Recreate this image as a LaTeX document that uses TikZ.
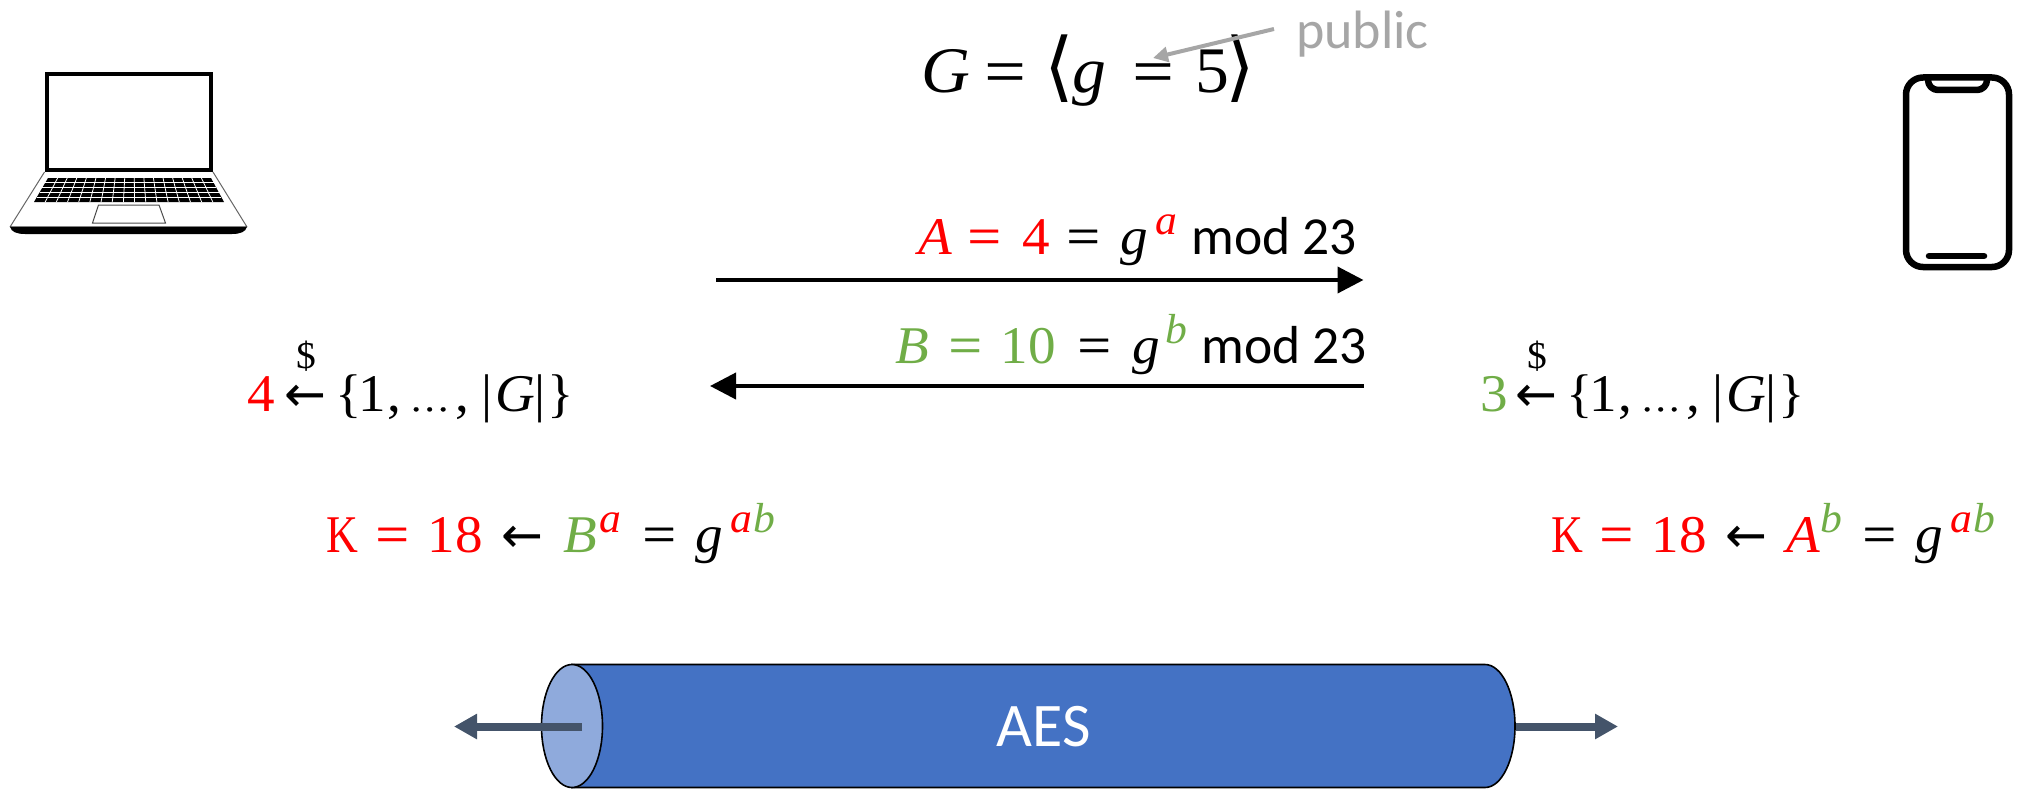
\documentclass[tikz,border=0pt]{standalone}
\usepackage{fontspec}
\usetikzlibrary{arrows.meta}
\newfontfamily\camb[FakeStretch=1.04]{Liberation Serif}
\newfontfamily\eqf[FakeStretch=1.12,FakeBold=0.6]{Liberation Serif}
\newfontfamily\calib{Carlito}
\newfontfamily\dvs{DejaVu Sans}
\definecolor{myred}{HTML}{FF0000}
\definecolor{mygreen}{HTML}{70AD47}
\definecolor{slate}{HTML}{44546A}
\definecolor{blueb}{HTML}{4472C4}
\definecolor{bluel}{HTML}{8FAADC}
\definecolor{pubgray}{HTML}{A6A6A6}
\newcommand\putat[2]{\rlap{\kern#1pt #2}}
\newcommand\mvar[1]{{\itshape #1}}
\newcommand\eqs{{\eqf =}}
\newcommand\kay{\scalebox{.8}[1]{K}}
\newcommand\supat[3]{\putat{#1}{\raisebox{20pt}{\fontsize{42}{44}\selectfont\itshape\textcolor{#2}{#3}}}}
\newcommand\larr{{\dvs\fontsize{50}{52}\selectfont ←}}
\newcommand\sampleset{%
\putat{37}{\larr}%
\putat{88}{\{}%
\putat{111}{1}%
\putat{140}{,}%
\putat{162}{{\eqf\fontsize{36}{38}\selectfont …}}%
\putat{208}{,}%
\putat{234}{|}%
\putat{248}{\mvar{G}}%
\putat{287}{|}%
\putat{300}{\}}%
}
\tikzset{
 txt/.style={anchor=base west,inner sep=0,outer sep=0,font=\camb\fontsize{53}{55}\selectfont},
 toptxt/.style={anchor=base west,inner sep=0,outer sep=0,font=\camb\fontsize{65}{67}\selectfont},
 msg/.style={line width=4pt,-{Triangle[length=26pt,width=26pt]}},
 pipearrow/.style={line width=8pt,slate,-{Triangle[length=23pt,width=24pt]}},
 devline/.style={line width=6.5pt,line join=round,line cap=round},
}
\begin{document}
\begin{tikzpicture}[x=1pt,y=-1pt]
\useasboundingbox (0,0) rectangle (2018,789);
% laptop
\fill (44.5,72) rectangle (213,172);
\fill[white] (49,76.5) rectangle (209,168);
\draw[line width=1pt,black!60] (44.5,172) -- (10,227) (213,172) -- (247,227) (10,227) -- (247,227);
\fill (10,226.5) -- (247,226.5) .. controls (246,232) and (240,234) .. (232,234) -- (25,234) .. controls (17,234) and (11,232) .. (10,226.5) -- cycle;
\fill (48,178) -- (211,178) -- (224,202) -- (34,202) -- cycle;
\foreach \i in {1,...,16}{
 \draw[white,line width=.8pt] ({48+\i*163/17},178) -- ({34+\i*190/17},202);
}
\foreach \j in {1,...,4}{
 \draw[white,line width=.8pt] ({48-\j*2.8},{178+\j*4.8}) -- ({211+\j*2.6},{178+\j*4.8});
}
\draw[line width=1pt,black!70] (98.5,205) -- (159,205) -- (165.5,223) -- (92.5,223) -- cycle;
% phone
\draw[devline,rounded corners=17pt] (1906,77.5) rectangle (2009,267);
\draw[devline,rounded corners=10pt] (1928,78) -- (1928,90) -- (1987,90) -- (1987,78);
\draw[line width=6.5pt,line cap=round] (1929,256) -- (1984,256);
% top
\node[toptxt] (gdef) at (924,93) {\putat{-3}{\mvar{G}}\putat{60}{\eqs}\putat{120}{{\dvs\fontsize{76}{78}\selectfont⟨}}\putat{148}{\mvar{g}}\putat{208}{\eqs}\putat{271}{5}\putat{301}{{\dvs\fontsize{76}{78}\selectfont⟩}}};
\coordinate (pubfrom) at (1274,29);
\coordinate (pubto) at (1153,58);
\draw[pubgray,line width=4pt,-{Triangle[length=15pt,width=15pt]}] (pubfrom) -- (pubto);
\node[anchor=base west,inner sep=0,text=pubgray,font=\calib\fontsize{54}{56}\selectfont] (pub) at (1296,49) {public};
% messages
\node[txt] (msga) at (917,254) {\putat{1}{\textcolor{myred}{\mvar{A}}}\putat{50}{\textcolor{myred}{\eqs}}\putat{105}{\textcolor{myred}{4}}\putat{149}{\eqs}\putat{203}{\mvar{g}}\supat{238}{myred}{a}\putat{274}{\calib\fontsize{53.5}{55}\selectfont mod 23}};
\coordinate (a1) at (716,280);
\coordinate (a2) at (1363.5,280);
\draw[msg] (a1) -- (a2);
\node[txt] (msgb) at (897,363) {\putat{-2}{\textcolor{mygreen}{\mvar{B}}}\putat{51}{\textcolor{mygreen}{\eqs}}\putat{103}{\textcolor{mygreen}{10}}\putat{180}{\eqs}\putat{235}{\mvar{g}}\supat{268}{mygreen}{b}\putat{304}{\calib\fontsize{53.5}{55}\selectfont mod 23}};
\coordinate (b1) at (1363.5,386);
\coordinate (b2) at (710,386);
\draw[msg] (b1) -- (b2);
% sampling
\node[txt] (sa) at (247,411) {\putat{0}{\textcolor{myred}{4}}\sampleset};
\node[anchor=base,inner sep=0,font=\camb\fontsize{38}{40}\selectfont] (da) at (306,368) {\$};
\node[txt] (sb) at (1478,411) {\putat{2}{\textcolor{mygreen}{3}}\sampleset};
\node[anchor=base,inner sep=0,font=\camb\fontsize{38}{40}\selectfont] (db) at (1537,368) {\$};
% keys
\node[txt] (ka) at (327,552) {\putat{-1}{\textcolor{myred}{\kay}}\putat{48}{\textcolor{myred}{\eqs}}\putat{100}{\textcolor{myred}{18}}\putat{174}{\larr}\putat{236}{\textcolor{mygreen}{\mvar{B}}}\supat{272}{myred}{a}\putat{315}{\eqs}\putat{368}{\mvar{g}}\supat{403}{myred}{a}\supat{426}{mygreen}{b}};
\node[txt] (kb) at (1552,552) {\putat{-1}{\textcolor{myred}{\kay}}\putat{47}{\textcolor{myred}{\eqs}}\putat{99}{\textcolor{myred}{18}}\putat{173}{\larr}\putat{234}{\textcolor{myred}{\mvar{A}}}\supat{268}{mygreen}{b}\putat{310}{\eqs}\putat{363}{\mvar{g}}\supat{398}{myred}{a}\supat{421}{mygreen}{b}};
% pipe
\filldraw[fill=blueb,draw=black,line width=1.6pt] (572,664.5) -- (1485,664.5) arc[start angle=-90,end angle=90,x radius=30,y radius=61.5] -- (572,787.5) -- cycle;
\filldraw[fill=bluel,draw=black,line width=1.6pt] (572,726) ellipse[x radius=30.5,y radius=61.5];
\node[anchor=base,inner sep=0,text=white,font=\calib\fontsize{62}{64}\selectfont] (aes) at (1044,746) {AES};
\coordinate (l1) at (582,726.5);
\coordinate (l2) at (454,726.5);
\coordinate (r1) at (1516,726.5);
\coordinate (r2) at (1618,726.5);
\draw[pipearrow] (l1) -- (l2);
\draw[pipearrow] (r1) -- (r2);
\end{tikzpicture}
\end{document}
